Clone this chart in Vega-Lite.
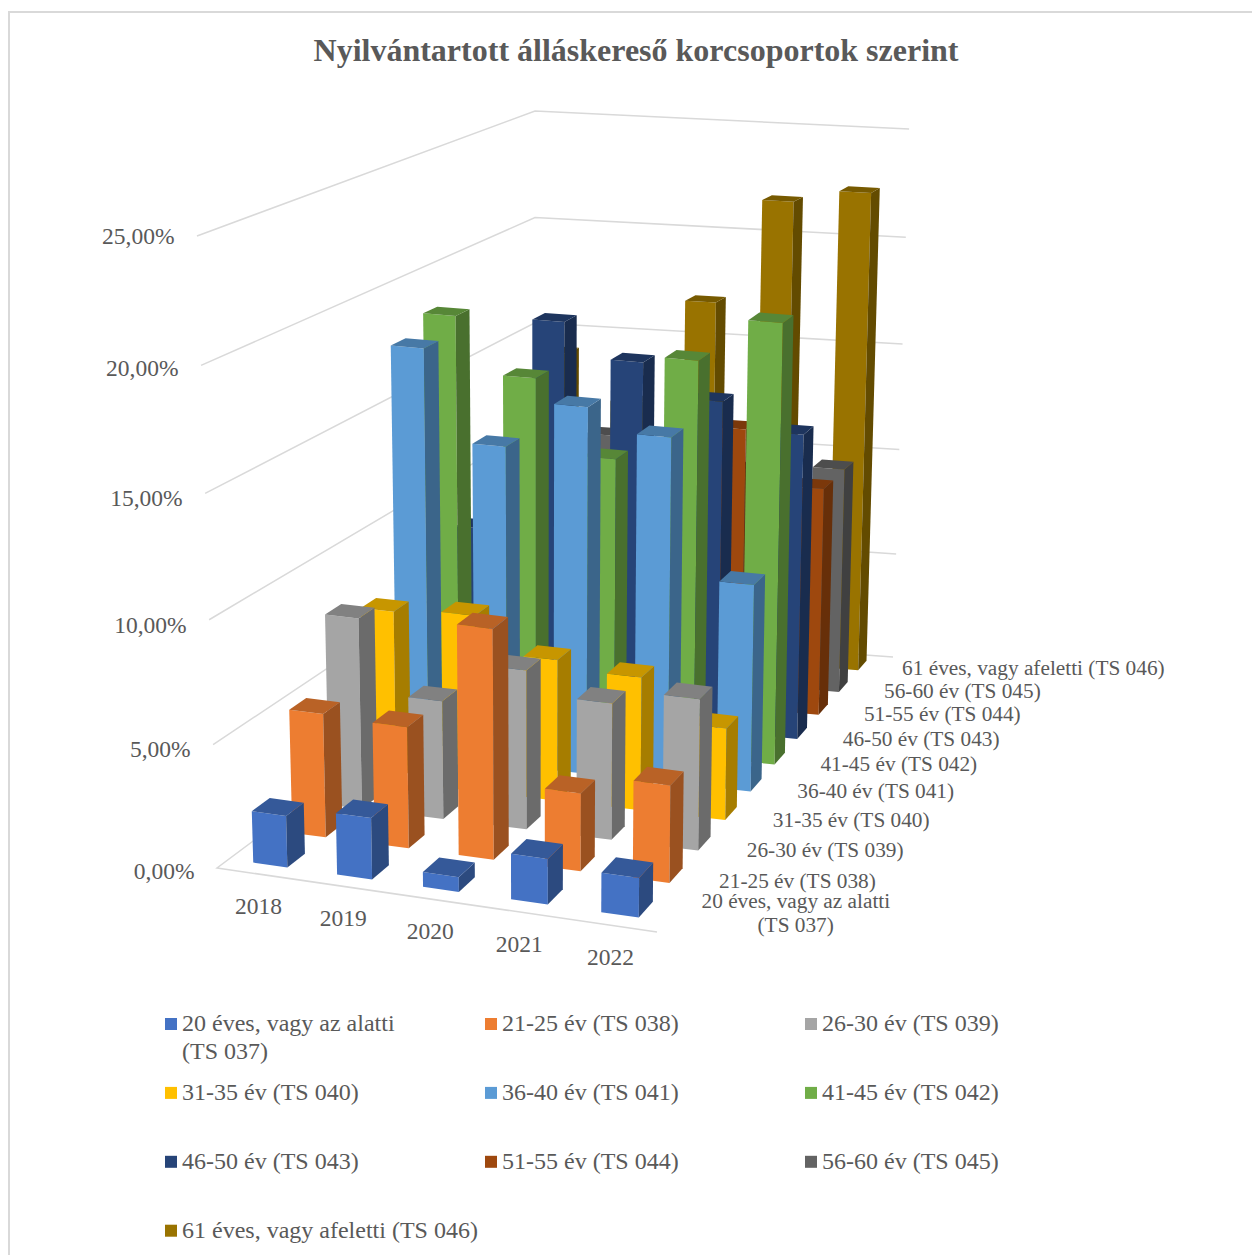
{
"$schema":"https://vega.github.io/schema/vega-lite/v6.json",
"width":1248,"height":1248,
"autosize":{"type":"none"},
"padding":{"left":9,"top":12,"right":-5,"bottom":-5},
"background":"white",
"view":{"stroke":"#D9D9D9","strokeWidth":2,"fill":"white"},
"title":{"text":"Nyilvántartott álláskereső korcsoportok szerint","font":"Liberation Serif","fontWeight":"bold","fontSize":32,"color":"#595959","anchor":"middle","dx":3,"dy":56,"offset":0},
"layer":[
{"data":{"values":[{"pct":0},{"pct":5},{"pct":10},{"pct":15},{"pct":20},{"pct":25}]},
"transform":[
{"calculate":"[0,1,2,3]","as":"k"},{"flatten":["k"]},
{"filter":"datum.pct==0||datum.k>0"},
{"calculate":"[1,0,0,1][datum.k]","as":"u"},
{"calculate":"[0,0,1,1][datum.k]","as":"v"},
{"calculate":"1-0.10969*datum.u+0.30136*datum.v","as":"w"},
{"calculate":"(367.93*datum.u+479.23*datum.v+217)/datum.w","as":"fx"},
{"calculate":"(-38.23*datum.u-46.84*datum.v+868)/datum.w","as":"fy"},
{"calculate":"632*(1-datum.u)*(1-datum.v)+640*datum.u*(1-datum.v)+528*datum.u*datum.v+520*(1-datum.u)*datum.v","as":"K"},
{"calculate":"datum.pct/25*(1+0.03*(datum.pct/25-1))","as":"tt"},
{"calculate":"datum.fx+(datum.fx-535)*(datum.fx<535?0.063:0.045)*datum.tt","as":"px"},
{"calculate":"datum.fy-datum.K*datum.tt","as":"py"}
],
"mark":{"type":"line","stroke":"#D9D9D9","strokeWidth":1.5},
"encoding":{
"x":{"field":"px","type":"quantitative","axis":null,"scale":{"domain":[9,1257],"nice":false,"zero":false}},
"y":{"field":"py","type":"quantitative","axis":null,"scale":{"domain":[12,1260],"nice":false,"zero":false,"reverse":true}},
"detail":{"field":"pct"},
"order":{"field":"k","type":"quantitative"}}
},
{"data":{"values":[
{"group":"61 éves, vagy afeletti (TS 046)","year":"2018","value":14.1},
{"group":"61 éves, vagy afeletti (TS 046)","year":"2019","value":12},
{"group":"61 éves, vagy afeletti (TS 046)","year":"2020","value":16.9},
{"group":"61 éves, vagy afeletti (TS 046)","year":"2021","value":21.75},
{"group":"61 éves, vagy afeletti (TS 046)","year":"2022","value":22.35},
{"group":"56-60 év (TS 045)","year":"2018","value":7},
{"group":"56-60 év (TS 045)","year":"2019","value":11.15},
{"group":"56-60 év (TS 045)","year":"2020","value":10.8},
{"group":"56-60 év (TS 045)","year":"2021","value":10},
{"group":"56-60 év (TS 045)","year":"2022","value":10.35},
{"group":"51-55 év (TS 044)","year":"2018","value":6},
{"group":"51-55 év (TS 044)","year":"2019","value":8},
{"group":"51-55 év (TS 044)","year":"2020","value":10},
{"group":"51-55 év (TS 044)","year":"2021","value":12.7},
{"group":"51-55 év (TS 044)","year":"2022","value":10.3},
{"group":"46-50 év (TS 043)","year":"2018","value":8.2},
{"group":"46-50 év (TS 043)","year":"2019","value":17.65},
{"group":"46-50 év (TS 043)","year":"2020","value":16.15},
{"group":"46-50 év (TS 043)","year":"2021","value":14.7},
{"group":"46-50 év (TS 043)","year":"2022","value":13.55},
{"group":"41-45 év (TS 042)","year":"2018","value":18.3},
{"group":"41-45 év (TS 042)","year":"2019","value":15.9},
{"group":"41-45 év (TS 042)","year":"2020","value":12.7},
{"group":"41-45 év (TS 042)","year":"2021","value":17.25},
{"group":"41-45 év (TS 042)","year":"2022","value":19.15},
{"group":"36-40 év (TS 041)","year":"2018","value":17.6},
{"group":"36-40 év (TS 041)","year":"2019","value":13.75},
{"group":"36-40 év (TS 041)","year":"2020","value":15.75},
{"group":"36-40 év (TS 041)","year":"2021","value":14.8},
{"group":"36-40 év (TS 041)","year":"2022","value":8.9},
{"group":"31-35 év (TS 040)","year":"2018","value":7.3},
{"group":"31-35 év (TS 040)","year":"2019","value":7.5},
{"group":"31-35 év (TS 040)","year":"2020","value":6},
{"group":"31-35 év (TS 040)","year":"2021","value":5.65},
{"group":"31-35 év (TS 040)","year":"2022","value":3.9},
{"group":"26-30 év (TS 039)","year":"2018","value":8},
{"group":"26-30 év (TS 039)","year":"2019","value":4.95},
{"group":"26-30 év (TS 039)","year":"2020","value":6.65},
{"group":"26-30 év (TS 039)","year":"2021","value":5.7},
{"group":"26-30 év (TS 039)","year":"2022","value":6.3},
{"group":"21-25 év (TS 038)","year":"2018","value":5.1},
{"group":"21-25 év (TS 038)","year":"2019","value":5},
{"group":"21-25 év (TS 038)","year":"2020","value":9.45},
{"group":"21-25 év (TS 038)","year":"2021","value":3.2},
{"group":"21-25 év (TS 038)","year":"2022","value":4},
{"group":"20 éves, vagy az alatti (TS 037)","year":"2018","value":2.1},
{"group":"20 éves, vagy az alatti (TS 037)","year":"2019","value":2.5},
{"group":"20 éves, vagy az alatti (TS 037)","year":"2020","value":0.6},
{"group":"20 éves, vagy az alatti (TS 037)","year":"2021","value":1.85},
{"group":"20 éves, vagy az alatti (TS 037)","year":"2022","value":1.6}
]},
"transform":[
{"calculate":"indexof(['2018','2019','2020','2021','2022'],datum.year)","as":"i"},
{"calculate":"indexof(['20 éves, vagy az alatti (TS 037)','21-25 év (TS 038)','26-30 év (TS 039)','31-35 év (TS 040)','36-40 év (TS 041)','41-45 év (TS 042)','46-50 év (TS 043)','51-55 év (TS 044)','56-60 év (TS 045)','61 éves, vagy afeletti (TS 046)'],datum.group)","as":"j"},
{"calculate":"[0,1,2,3,4,5,6,7,8,9,10,11]","as":"k"},{"flatten":["k"]},
{"calculate":"floor(datum.k/4)","as":"face"},
{"calculate":"datum.j*100+datum.i*10+datum.face","as":"pid"},
{"calculate":"(datum.i+0.295+0.41*[0,1,1,0,1,1,1,1,0,1,1,0][datum.k])/5","as":"u0"},
{"calculate":"datum.u0+0.055*datum.u0*(1-datum.u0)","as":"u"},
{"calculate":"(datum.j+0.29+0.45*[0,0,0,0,0,1,1,0,0,0,1,1][datum.k])/10","as":"v"},
{"calculate":"datum.value*[0,0,1,1,0,0,1,1,1,1,1,1][datum.k]","as":"pct"},
{"calculate":"[['#4472C4','#ED7D31','#A5A5A5','#FFC000','#5B9BD5','#70AD47','#264478','#9E480E','#636363','#997300'],['#2C4A7F','#9A5120','#6B6B6B','#A67D00','#3B658A','#49702E','#192C4E','#672F09','#404040','#634B00'],['#355999','#B96226','#818181','#C79600','#4779A6','#578737','#1E355E','#7B380B','#4D4D4D','#775A00']][datum.face][datum.j]","as":"shade"},
{"calculate":"1-0.10969*datum.u+0.30136*datum.v","as":"w"},
{"calculate":"(367.93*datum.u+479.23*datum.v+217)/datum.w","as":"fx"},
{"calculate":"(-38.23*datum.u-46.84*datum.v+868)/datum.w","as":"fy"},
{"calculate":"632*(1-datum.u)*(1-datum.v)+640*datum.u*(1-datum.v)+528*datum.u*datum.v+520*(1-datum.u)*datum.v","as":"K"},
{"calculate":"datum.pct/25*(1+0.03*(datum.pct/25-1))","as":"tt"},
{"calculate":"datum.fx+(datum.fx-535)*(datum.fx<535?0.063:0.045)*datum.tt","as":"px"},
{"calculate":"datum.fy-datum.K*datum.tt","as":"py"}
],
"mark":{"type":"line","filled":true},
"encoding":{
"x":{"field":"px","type":"quantitative","axis":null,"scale":{"domain":[9,1257],"nice":false,"zero":false}},
"y":{"field":"py","type":"quantitative","axis":null,"scale":{"domain":[12,1260],"nice":false,"zero":false,"reverse":true}},
"detail":{"field":"pid"},
"color":{"field":"shade","type":"nominal","scale":null},
"order":{"field":"k","type":"quantitative"}}
},
{"data":{"values":[{"pct":0},{"pct":5},{"pct":10},{"pct":15},{"pct":20},{"pct":25}]},
"transform":[
{"calculate":"replace(format(datum.pct,'.2f'),'.',',')+'%'","as":"label"},
{"calculate":"datum.pct/25*(1+0.03*(datum.pct/25-1))","as":"tt"},
{"calculate":"217+(217-535)*0.063*datum.tt-22.5","as":"px"},
{"calculate":"868-632*datum.tt+4+[0,1,2,2,0,-3][datum.pct/5]","as":"py"}
],
"mark":{"type":"text","align":"right","baseline":"middle","font":"Liberation Serif","fontSize":23.5,"color":"#595959"},
"encoding":{
"x":{"field":"px","type":"quantitative","axis":null,"scale":{"domain":[9,1257],"nice":false,"zero":false}},
"y":{"field":"py","type":"quantitative","axis":null,"scale":{"domain":[12,1260],"nice":false,"zero":false,"reverse":true}},
"text":{"field":"label"}}
},
{"data":{"values":[{"year":"2018"},{"year":"2019"},{"year":"2020"},{"year":"2021"},{"year":"2022"}]},
"transform":[
{"calculate":"indexof(['2018','2019','2020','2021','2022'],datum.year)","as":"i"},
{"calculate":"(datum.i+0.5)/5","as":"u0"},
{"calculate":"datum.u0+0.055*datum.u0*(1-datum.u0)","as":"u"},
{"calculate":"1-0.10969*datum.u","as":"w"},
{"calculate":"(367.93*datum.u+217)/datum.w","as":"px"},
{"calculate":"(-38.23*datum.u+868)/datum.w+33","as":"py"}
],
"mark":{"type":"text","align":"center","baseline":"middle","font":"Liberation Serif","fontSize":23.5,"color":"#595959"},
"encoding":{
"x":{"field":"px","type":"quantitative","axis":null,"scale":{"domain":[9,1257],"nice":false,"zero":false}},
"y":{"field":"py","type":"quantitative","axis":null,"scale":{"domain":[12,1260],"nice":false,"zero":false,"reverse":true}},
"text":{"field":"year"}}
},
{"data":{"values":[
{"j":0,"part":0,"label":"20 éves, vagy az alatti"},
{"j":0,"part":1,"label":"(TS 037)"},
{"j":1,"part":0,"label":"21-25 év (TS 038)"},
{"j":2,"part":0,"label":"26-30 év (TS 039)"},
{"j":3,"part":0,"label":"31-35 év (TS 040)"},
{"j":4,"part":0,"label":"36-40 év (TS 041)"},
{"j":5,"part":0,"label":"41-45 év (TS 042)"},
{"j":6,"part":0,"label":"46-50 év (TS 043)"},
{"j":7,"part":0,"label":"51-55 év (TS 044)"},
{"j":8,"part":0,"label":"56-60 év (TS 045)"},
{"j":9,"part":0,"label":"61 éves, vagy afeletti (TS 046)"}
]},
"transform":[
{"calculate":"(datum.j+0.5)/10","as":"v"},
{"calculate":"1-0.10969+0.30136*datum.v","as":"w"},
{"calculate":"(367.93+479.23*datum.v+217)/datum.w+(datum.j==0?(datum.part==0?29:85):[0,17,17,17,17,17,17.5,18,18.5,18][datum.j])","as":"px"},
{"calculate":"(-38.23-46.84*datum.v+868)/datum.w+(datum.j==0?(datum.part==0?-11.5:12.5):[0,2.5,3.5,4.5,3.5,3.5,4.5,3.5,2.5,1.5][datum.j])","as":"py"}
],
"mark":{"type":"text","align":"left","baseline":"middle","font":"Liberation Serif","fontSize":21.3,"color":"#595959"},
"encoding":{
"x":{"field":"px","type":"quantitative","axis":null,"scale":{"domain":[9,1257],"nice":false,"zero":false}},
"y":{"field":"py","type":"quantitative","axis":null,"scale":{"domain":[12,1260],"nice":false,"zero":false,"reverse":true}},
"text":{"field":"label"}}
},
{"data":{"values":[{"label":"(TS 037)"}]},
"mark":{"type":"text","align":"left","baseline":"middle","font":"Liberation Serif","fontSize":24,"color":"#595959"},
"encoding":{
"x":{"datum":182,"type":"quantitative","axis":null,"scale":{"domain":[9,1257],"nice":false,"zero":false}},
"y":{"datum":1052,"type":"quantitative","axis":null,"scale":{"domain":[12,1260],"nice":false,"zero":false,"reverse":true}},
"text":{"field":"label"}}
},
{"data":{"values":[
{"group":"20 éves, vagy az alatti"},{"group":"21-25 év (TS 038)"},{"group":"26-30 év (TS 039)"},{"group":"31-35 év (TS 040)"},{"group":"36-40 év (TS 041)"},{"group":"41-45 év (TS 042)"},{"group":"46-50 év (TS 043)"},{"group":"51-55 év (TS 044)"},{"group":"56-60 év (TS 045)"},{"group":"61 éves, vagy afeletti (TS 046)"}
]},
"mark":{"type":"square","opacity":0},
"encoding":{
"color":{"field":"group","type":"nominal","sort":null,
"scale":{"domain":["20 éves, vagy az alatti","21-25 év (TS 038)","26-30 év (TS 039)","31-35 év (TS 040)","36-40 év (TS 041)","41-45 év (TS 042)","46-50 év (TS 043)","51-55 év (TS 044)","56-60 év (TS 045)","61 éves, vagy afeletti (TS 046)"],
"range":["#4472C4","#ED7D31","#A5A5A5","#FFC000","#5B9BD5","#70AD47","#264478","#9E480E","#636363","#997300"]},
"legend":{"title":null,"orient":"none","direction":"horizontal","legendX":150,"legendY":1000,"columns":3,"gridAlign":"all","symbolType":"square","symbolSize":144,"symbolOpacity":1,"symbolStrokeWidth":0,"labelFont":"Liberation Serif","labelFontSize":24,"labelColor":"#595959","labelLimit":400,"labelOffset":-1,"columnPadding":1,"rowPadding":44.9}}}
}
]
}
